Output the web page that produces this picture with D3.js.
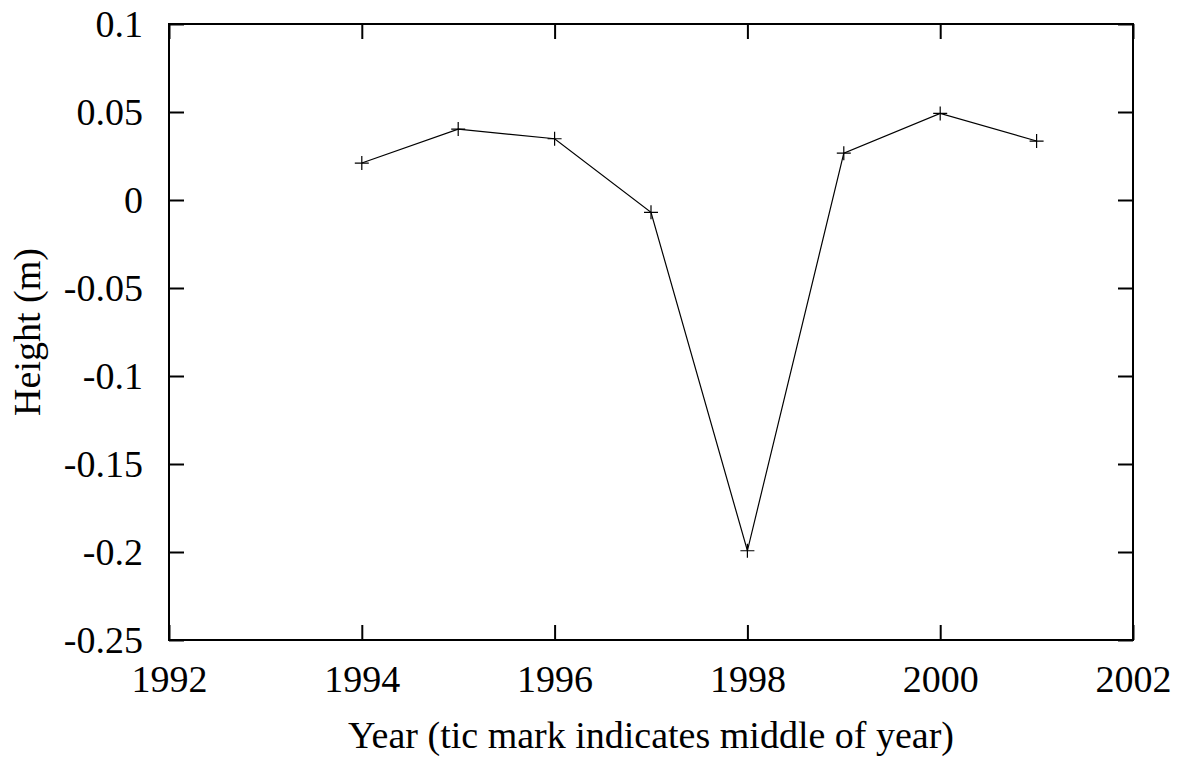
<!DOCTYPE html>
<html>
<head>
<meta charset="utf-8">
<script src="https://cdn.jsdelivr.net/npm/d3@7"></script>
<style>
  body { margin: 0; background: #fff; }
  svg { display: block; font-family: "Liberation Serif", "Times New Roman", serif; }
</style>
</head>
<body>
<div id="chart"></div>
<script>
const years = [1994, 1995, 1996, 1997, 1998, 1999, 2000, 2001];
const heights = [0.021, 0.0403, 0.0348, -0.007, -0.1993, 0.0266, 0.0492, 0.0335];
const xTicks = [1992, 1994, 1996, 1998, 2000, 2002];
const yTicks = [-0.25, -0.2, -0.15, -0.1, -0.05, 0, 0.05, 0.1];

const width = 1183, height = 758;
const margin = { top: 24, right: 50, bottom: 118, left: 169 };
const innerW = width - margin.left - margin.right;
const innerH = height - margin.top - margin.bottom;
const fontSize = "38px";

const svg = d3.select("#chart").append("svg")
  .attr("width", width)
  .attr("height", height);

const g = svg.append("g")
  .attr("transform", `translate(${margin.left},${margin.top})`);

const x = d3.scaleLinear().domain([1992, 2002]).range([0, innerW]);
const y = d3.scaleLinear().domain([-0.25, 0.1]).range([innerH, 0]);

const tickLen = 15;

// frame
g.append("rect")
  .attr("width", innerW)
  .attr("height", innerH)
  .attr("fill", "none")
  .attr("stroke", "#000")
  .attr("stroke-width", 2);

// ticks (mirrored on all sides, gnuplot style)
const axBottom = g.append("g")
  .attr("transform", `translate(0,${innerH})`)
  .call(d3.axisBottom(x).tickValues(xTicks).tickSize(-tickLen).tickFormat(d3.format("d")));
const axTop = g.append("g")
  .call(d3.axisTop(x).tickValues(xTicks).tickSize(-tickLen).tickFormat(""));
const axLeft = g.append("g")
  .call(d3.axisLeft(y).tickValues(yTicks).tickSize(-tickLen).tickFormat(d => String(+d.toFixed(2))));
const axRight = g.append("g")
  .attr("transform", `translate(${innerW},0)`)
  .call(d3.axisRight(y).tickValues(yTicks).tickSize(-tickLen).tickFormat(""));

[axBottom, axTop, axLeft, axRight].forEach(a => {
  a.select(".domain").remove();
  a.selectAll(".tick line").attr("stroke", "#000").attr("stroke-width", 2);
  a.selectAll("text")
    .attr("fill", "#000")
    .style("font-family", "'Liberation Serif', 'Times New Roman', serif")
    .style("font-size", fontSize);
});
axLeft.selectAll("text").attr("x", -26).attr("dy", "0.33em");
axBottom.selectAll("text").attr("y", 52).attr("dy", 0);

// line
const line = d3.line()
  .x((d, i) => x(years[i]))
  .y(d => y(d));

g.append("path")
  .datum(heights)
  .attr("d", line)
  .attr("fill", "none")
  .attr("stroke", "#000")
  .attr("stroke-width", 1.2);

// plus markers
const s = 7;
g.selectAll(".pt")
  .data(heights)
  .join("path")
  .attr("class", "pt")
  .attr("d", (d, i) => {
    const cx = x(years[i]), cy = y(d);
    return `M${cx - s},${cy}H${cx + s}M${cx},${cy - s}V${cy + s}`;
  })
  .attr("stroke", "#000")
  .attr("stroke-width", 1.2);

// axis titles
svg.append("text")
  .attr("x", margin.left + innerW / 2)
  .attr("y", 748)
  .attr("text-anchor", "middle")
  .style("font-size", fontSize)
  .text("Year (tic mark indicates middle of year)");

svg.append("text")
  .attr("transform", "rotate(-90)")
  .attr("x", -(margin.top + innerH / 2))
  .attr("y", 40)
  .attr("text-anchor", "middle")
  .style("font-size", fontSize)
  .text("Height (m)");
</script>
</body>
</html>
